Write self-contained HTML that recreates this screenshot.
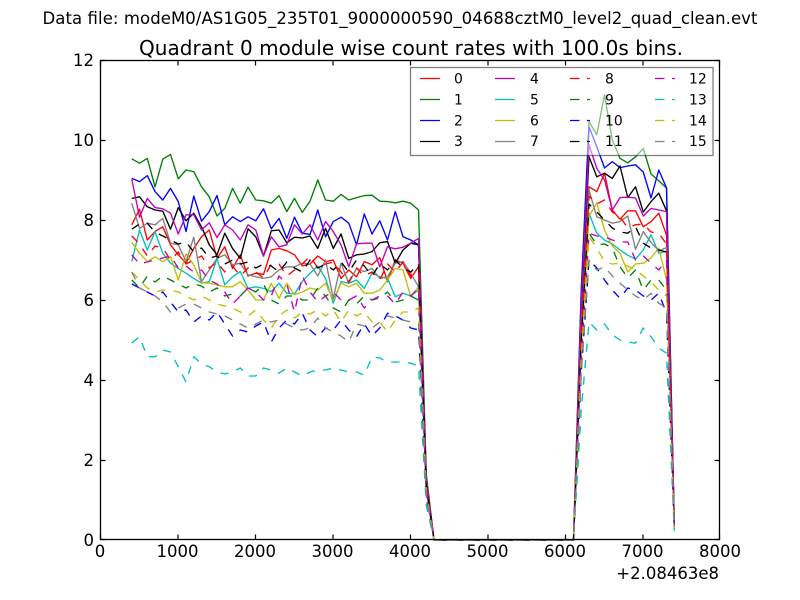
<!DOCTYPE html>
<html><head><meta charset="utf-8"><style>
html,body{margin:0;padding:0;background:#fff;}
svg{display:block;}
text{font-family:"DejaVu Sans","Liberation Sans",sans-serif;fill:#000;}
</style></head><body>
<svg width="800" height="600" viewBox="0 0 800 600" xmlns="http://www.w3.org/2000/svg">
<rect x="0" y="0" width="800" height="600" fill="#fff"/>
<text x="400" y="24" font-size="16.5" text-anchor="middle" textLength="715" lengthAdjust="spacing">Data file: modeM0/AS1G05_235T01_9000000590_04688cztM0_level2_quad_clean.evt</text>
<text x="411" y="55" font-size="20" text-anchor="middle" textLength="544" lengthAdjust="spacing">Quadrant 0 module wise count rates with 100.0s bins.</text>
<rect x="100.5" y="60.5" width="619" height="479" fill="#fff"/>
<g transform="translate(131.775,540) scale(7.75,-40)" fill="none" stroke-width="1.35" stroke-linejoin="round">
<polyline vector-effect="non-scaling-stroke" stroke="#ff0000" points="0,7.88 1,8.27 2,7.5 3,7.71 4,7.83 5,7.38 6,7.13 7,6.92 8,7.29 9,7.58 10,7.75 11,7.04 12,7.33 13,6.79 14,7.13 15,6.6 16,6.67 17,6.64 18,7.25 19,7.29 20,7.23 21,7.13 22,6.85 23,6.9 24,7.1 25,6.96 26,7 27,6.54 28,6.75 29,6.58 30,6.96 31,6.88 32,7.06 33,6.46 34,7 35,6.92 36,6.54 37,6.83 38,1.37 39,0 57,0 58,5.3 59,8.83 60,8.71 61,9.17 62,8.25 63,8.02 64,8.23 65,8.23 66,7.83 67,7.96 68,8.17 69,7.62 70,0.38"/>
<polyline vector-effect="non-scaling-stroke" stroke="#008000" points="0,9.53 1,9.42 2,9.54 3,8.83 4,9.52 5,9.64 6,9.03 7,9.25 8,9.21 9,8.83 10,8.58 11,8.1 12,8.29 13,8.79 14,8.42 15,8.82 16,8.5 17,8.48 18,8.42 19,8.61 20,8.21 21,8.54 22,8.19 23,8.47 24,9 25,8.5 26,8.47 27,8.64 28,8.5 29,8.56 30,8.61 31,8.62 32,8.47 33,8.46 34,8.43 35,8.47 36,8.42 37,8.25 38,1.65 39,0 57,0 58,6.28 59,10.46 60,10.13 61,11.13 62,10 63,9.54 64,9.43 65,9.58 66,9.79 67,9.15 68,8.98 69,8.8 70,0.44"/>
<polyline vector-effect="non-scaling-stroke" stroke="#0000ff" points="0,9.04 1,8.96 2,9.11 3,8.71 4,8.5 5,8.79 6,8.46 7,7.71 8,8.6 9,7.97 10,8.21 11,8.61 12,7.88 13,8.08 14,7.96 15,8.08 16,7.98 17,8.28 18,7.78 19,8.04 20,7.54 21,8.07 22,7.67 23,7.64 24,8.25 25,7.58 26,7.96 27,8.07 28,7.92 29,7.38 30,8.15 31,7.65 32,7.98 33,7.5 34,8.21 35,7.58 36,7.5 37,7.38 38,1.48 39,0 57,0 58,6.2 59,10.33 60,9.83 61,9.3 62,9.46 63,9.31 64,9.35 65,9.38 66,9.2 67,8.55 68,9.25 69,8.8 70,0.44"/>
<polyline vector-effect="non-scaling-stroke" stroke="#000000" points="0,8.54 1,8.58 2,8.33 3,8.25 4,8.22 5,7.77 6,8.31 7,7.98 8,8.17 9,7.83 10,7.38 11,7.13 12,7.67 13,7.29 14,7.04 15,7.78 16,7.58 17,7.1 18,7.73 19,7.75 20,7.43 21,7.57 22,7.55 23,7.6 24,7.29 25,7.79 26,7.29 27,7.65 28,7.04 29,7.13 30,7.15 31,7.21 32,7.43 33,7.46 34,6.92 35,7.25 36,7.42 37,7.38 38,1.48 39,0 57,0 58,5.75 59,9.58 60,9.08 61,9.17 62,9.04 63,9.35 64,8.56 65,8.83 66,8.2 67,8.46 68,8.67 69,8.23 70,0.41"/>
<polyline vector-effect="non-scaling-stroke" stroke="#bf00bf" points="0,9.02 1,8.07 2,8.54 3,8.31 4,8.28 5,8.17 6,7.65 7,8.13 8,8.13 9,7.75 10,7.93 11,7.56 12,7.88 13,7.75 14,7.5 15,7.88 16,7.75 17,7.1 18,7.58 19,7.33 20,7.38 21,7.88 22,7.65 23,7.88 24,7.5 25,7.96 26,7.71 27,7.38 28,6.83 29,7.4 30,7.42 31,7.42 32,6.83 33,7.33 34,7.28 35,7.32 36,7.42 37,7.54 38,1.51 39,0 57,0 58,5.93 59,9.88 60,9.29 61,9 62,8.25 63,8.56 64,8.57 65,8.55 66,8.1 67,8.29 68,8.25 69,8.21 70,0.41"/>
<polyline vector-effect="non-scaling-stroke" stroke="#00bfbf" points="0,6.96 1,7.75 2,7.25 3,7.71 4,7.17 5,6.92 6,6.79 7,6.67 8,6.54 9,6.42 10,6.46 11,7.04 12,6.38 13,6.58 14,6.71 15,6.29 16,6.33 17,6.29 18,6.21 19,6.42 20,6.17 21,6.15 22,6.46 23,6.67 24,6.85 25,6.54 26,5.92 27,6.46 28,6.42 29,6.5 30,6.29 31,6.67 32,6.58 33,6.54 34,6.08 35,6.17 36,6.1 37,6.25 38,1.25 39,0 57,0 58,4.9 59,8.17 60,7.67 61,7.5 62,7.4 63,7.25 64,7.12 65,7.02 66,7.25 67,7.63 68,7.17 69,7.21 70,0.36"/>
<polyline vector-effect="non-scaling-stroke" stroke="#bfbf00" points="0,7.44 1,7.17 2,6.96 3,7.08 4,6.96 5,7.08 6,6.5 7,7.15 8,6.88 9,6.43 10,6.42 11,6.38 12,6.33 13,6.33 14,6.46 15,6.25 16,6 17,6 18,6.42 19,6.04 20,6.42 21,6.13 22,6.2 23,6.3 24,6.25 25,6.42 26,6 27,6.42 28,6.33 29,6.42 30,6.17 31,6.17 32,6.25 33,6.5 34,6.79 35,6.75 36,6.08 37,6.33 38,1.27 39,0 57,0 58,4.86 59,8.1 60,8.42 61,7.75 62,7.35 63,7.17 64,6.7 65,6.9 66,6.92 67,7.05 68,7.3 69,6.5 70,0.33"/>
<polyline vector-effect="non-scaling-stroke" stroke="#808080" points="0,8.42 1,7.79 2,7.92 3,7.88 4,8.04 5,7.42 6,7.38 7,6.96 8,7.57 9,6.46 10,6.75 11,7.04 12,7.13 13,6.88 14,6.92 15,6.63 16,6.58 17,6.54 18,6.58 19,6.75 20,6.83 21,6.83 22,6.92 23,6.9 24,6.6 25,7 26,6.04 27,6.92 28,6.42 29,6.79 30,6.71 31,6.79 32,6.54 33,6.58 34,6.92 35,6.96 36,6.67 37,6.33 38,1.27 39,0 57,0 58,5.25 59,8.75 60,8.08 61,8 62,7.92 63,7.96 64,8.1 65,7.27 66,7.71 67,7.44 68,7.23 69,7.31 70,0.37"/>
<g stroke-dasharray="8.3,8.3">
<polyline vector-effect="non-scaling-stroke" stroke="#ff0000" points="0,7.6 1,7.4 2,7.1 3,7.35 4,7.3 5,7 6,7.2 7,6.9 8,7 9,7.1 10,6.8 11,6.95 12,6.7 13,6.85 14,6.6 15,6.8 16,6.7 17,6.55 18,6.9 19,6.9 20,6.6 21,6.75 22,6.9 23,7.1 24,6.8 25,6.9 26,6.95 27,6.7 28,6.45 29,6.8 30,6.6 31,6.7 32,6.5 33,6.9 34,6.7 35,6.95 36,6.6 37,6.7 38,1.34 39,0 57,0 58,5.16 59,8.6 60,8.4 61,8.5 62,8.2 63,8.08 64,7.8 65,7.88 66,7.9 67,7.7 68,7.67 69,7.4 70,0.37"/>
<polyline vector-effect="non-scaling-stroke" stroke="#008000" points="0,6.5 1,6.3 2,6.6 3,6.45 4,6.6 5,6.5 6,6.4 7,6.3 8,6.4 9,6.35 10,6.2 11,6.3 12,6.1 13,6.15 14,6.1 15,6.3 16,6.2 17,6.4 18,6 19,5.9 20,6.1 21,6.1 22,6 23,6 24,6.3 25,6.1 26,5.8 27,5.7 28,6 29,5.9 30,6.1 31,6 32,6.05 33,6.2 34,5.95 35,6 36,6.1 37,6 38,1.2 39,0 57,0 58,4.6 59,7.67 60,7.38 61,7.4 62,7.3 63,6.83 64,6.55 65,6.75 66,6.25 67,6.5 68,6.5 69,6.25 70,0.31"/>
<polyline vector-effect="non-scaling-stroke" stroke="#0000ff" points="0,6.4 1,6.3 2,6.2 3,6.1 4,6.2 5,5.95 6,5.7 7,5.75 8,5.45 9,5.6 10,5.5 11,5.7 12,5.4 13,5.1 14,5.25 15,5.2 16,5.35 17,5.45 18,4.95 19,5.3 20,5.5 21,5.4 22,5.67 23,5.25 24,5.08 25,5.3 26,5.25 27,5.5 28,5.25 29,5.08 30,5.4 31,5.1 32,5.3 33,5.67 34,5.6 35,5.5 36,5.3 37,5.25 38,1.05 39,0 57,0 58,4.2 59,7 60,6.8 61,6.5 62,6.25 63,6.04 64,6.3 65,6.25 66,6.1 67,6 68,6.17 69,5.67 70,0.28"/>
<polyline vector-effect="non-scaling-stroke" stroke="#000000" points="0,7.77 1,7.9 2,7.92 3,7.7 4,7.6 5,7.5 6,7.4 7,7.45 8,7.2 9,7.3 10,7.05 11,7.1 12,6.9 13,7 14,6.9 15,6.95 16,6.8 17,6.9 18,6.85 19,6.7 20,6.95 21,6.8 22,6.7 23,7 24,6.8 25,6.9 26,6.75 27,6.95 28,6.7 29,7 30,6.85 31,6.6 32,6.9 33,6.75 34,7 35,6.8 36,6.7 37,6.9 38,1.38 39,0 57,0 58,5.04 59,8.4 60,8.2 61,8 62,7.8 63,7.7 64,7.67 65,7.83 66,7.42 67,7.3 68,7.25 69,7.2 70,0.36"/>
<polyline vector-effect="non-scaling-stroke" stroke="#bf00bf" points="0,7.13 1,6.9 2,6.95 3,7 4,7.05 5,7.1 6,6.8 7,6.85 8,6.7 9,6.75 10,6.5 11,6.4 12,6.2 13,5.9 14,6.1 15,6.3 16,6.2 17,6 18,6.1 19,6.6 20,6.4 21,5.7 22,6.6 23,6.2 24,5.95 25,6.1 26,6.2 27,6 28,6 29,6.1 30,5.8 31,6 32,6.1 33,6.1 34,5.9 35,6.2 36,6.1 37,6.3 38,1.26 39,0 57,0 58,4.6 59,7.67 60,7.6 61,7.58 62,7.5 63,7.45 64,7.45 65,7 66,7.1 67,6.92 68,6.75 69,7 70,0.35"/>
<polyline vector-effect="non-scaling-stroke" stroke="#00bfbf" points="0,4.92 1,5.08 2,4.58 3,4.58 4,4.75 5,4.7 6,4.33 7,3.95 8,4.58 9,4.4 10,4.33 11,4.2 12,4.15 13,4.2 14,4.3 15,4.1 16,4.1 17,4.3 18,4.25 19,4.17 20,4.3 21,4.2 22,4.1 23,4.2 24,4.25 25,4.25 26,4.3 27,4.25 28,4.2 29,4.2 30,4.12 31,4.58 32,4.55 33,4.45 34,4.45 35,4.45 36,4.42 37,4.35 38,0.87 39,0 57,0 58,3.27 59,5.45 60,5.25 61,5.4 62,5.13 63,5 64,4.95 65,4.92 66,5.3 67,5.08 68,4.8 69,4.67 70,0.23"/>
<polyline vector-effect="non-scaling-stroke" stroke="#bfbf00" points="0,6.7 1,6.5 2,6.3 3,6.2 4,6.25 5,6.25 6,6.2 7,6.1 8,6 9,6.1 10,6 11,5.9 12,5.85 13,5.8 14,5.7 15,5.6 16,5.75 17,5.5 18,5.3 19,5.6 20,5.75 21,5.55 22,5.7 23,5.65 24,5.75 25,5.6 26,5.75 27,5.45 28,5.75 29,5.6 30,5.7 31,5.45 32,5.45 33,5.2 34,5.5 35,5.7 36,5.7 37,5.8 38,1.16 39,0 57,0 58,4.55 59,7.58 60,7.3 61,6.96 62,6.9 63,6.92 64,6.85 65,6.75 66,6.6 67,6.45 68,6.25 69,6.1 70,0.31"/>
<polyline vector-effect="non-scaling-stroke" stroke="#808080" points="0,6.7 1,6.3 2,6.2 3,6.1 4,5.95 5,5.7 6,5.8 7,5.9 8,5.9 9,5.8 10,5.7 11,5.65 12,5.6 13,5.5 14,5.4 15,5.3 16,5.4 17,5.5 18,5.45 19,5.5 20,5.4 21,5.3 22,5.25 23,5.3 24,5.55 25,5.3 26,5.2 27,5.1 28,4.95 29,5.4 30,5.35 31,5.3 32,5.45 33,5.6 34,5.55 35,5.5 36,5.45 37,5.4 38,1.08 39,0 57,0 58,4.2 59,7 60,6.75 61,6.83 62,6.6 63,6.42 64,6.25 65,6.1 66,6 67,6.17 68,5.92 69,5.8 70,0.29"/>
</g>
</g>
<!-- axes frame -->
<rect x="100.5" y="60.5" width="619" height="479" fill="none" stroke="#000" stroke-width="1.3"/>
<!-- ticks -->
<g stroke="#000" stroke-width="1.2">
<path d="M100.5,540V534.5M178,540V534.5M255.5,540V534.5M333,540V534.5M410.5,540V534.5M488,540V534.5M565.5,540V534.5M643,540V534.5M719.5,540V534.5"/>
<path d="M100.5,60V65.5M178,60V65.5M255.5,60V65.5M333,60V65.5M410.5,60V65.5M488,60V65.5M565.5,60V65.5M643,60V65.5M719.5,60V65.5"/>
<path d="M100,539.5H105.5M100,460.5H105.5M100,380.5H105.5M100,300.5H105.5M100,220.5H105.5M100,140.5H105.5M100,60.5H105.5"/>
<path d="M720,539.5H714.5M720,460.5H714.5M720,380.5H714.5M720,300.5H714.5M720,220.5H714.5M720,140.5H714.5M720,60.5H714.5"/>
</g>
<!-- tick labels -->
<g font-size="16.5" text-anchor="middle">
<text x="100" y="557">0</text>
<text x="177.5" y="557">1000</text>
<text x="255" y="557">2000</text>
<text x="332.5" y="557">3000</text>
<text x="410" y="557">4000</text>
<text x="487.5" y="557">5000</text>
<text x="565" y="557">6000</text>
<text x="642.5" y="557">7000</text>
<text x="720" y="557">8000</text>
</g>
<text x="719" y="579" font-size="16.5" text-anchor="end">+2.08463e8</text>
<g font-size="16.5" text-anchor="end">
<text x="94" y="546">0</text>
<text x="94" y="466">2</text>
<text x="94" y="386">4</text>
<text x="94" y="306">6</text>
<text x="94" y="226">8</text>
<text x="94" y="146">10</text>
<text x="94" y="66">12</text>
</g>
<!-- legend -->
<rect x="410.5" y="67.5" width="302.5" height="88" fill="#fff" fill-opacity="0.5" stroke="#000" stroke-opacity="0.5" stroke-width="1.3"/>
<g stroke-width="1.35" fill="none">
<path d="M420,78.5H440" stroke="#ff0000"/>
<path d="M420,99.5H440" stroke="#008000"/>
<path d="M420,120.5H440" stroke="#0000ff"/>
<path d="M420,141.5H440" stroke="#000000"/>
<path d="M495,78.5H515" stroke="#bf00bf"/>
<path d="M495,99.5H515" stroke="#00bfbf"/>
<path d="M495,120.5H515" stroke="#bfbf00"/>
<path d="M495,141.5H515" stroke="#808080"/>
<g stroke-dasharray="9.5,7.5">
<path d="M570,78.5H590" stroke="#ff0000"/>
<path d="M570,99.5H590" stroke="#008000"/>
<path d="M570,120.5H590" stroke="#0000ff"/>
<path d="M570,141.5H590" stroke="#000000"/>
<path d="M655,78.5H675" stroke="#bf00bf"/>
<path d="M655,99.5H675" stroke="#00bfbf"/>
<path d="M655,120.5H675" stroke="#bfbf00"/>
<path d="M655,141.5H675" stroke="#808080"/>
</g>
</g>
<g font-size="13.9">
<text x="454" y="83.5">0</text>
<text x="454" y="104.5">1</text>
<text x="454" y="125.5">2</text>
<text x="454" y="146">3</text>
<text x="530" y="83.5">4</text>
<text x="530" y="104.5">5</text>
<text x="530" y="125.5">6</text>
<text x="530" y="146">7</text>
<text x="605" y="83.5">8</text>
<text x="605" y="104.5">9</text>
<text x="605" y="125.5">10</text>
<text x="605" y="146">11</text>
<text x="689" y="83.5">12</text>
<text x="689" y="104.5">13</text>
<text x="689" y="125.5">14</text>
<text x="689" y="146">15</text>
</g>
</svg>
</body></html>
